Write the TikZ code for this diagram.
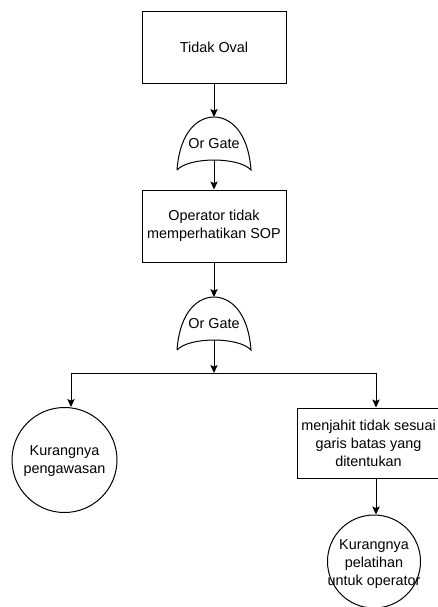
\documentclass[tikz,border=0pt]{standalone}
\usepackage{fontspec}
\setmainfont{Liberation Sans}
\usetikzlibrary{arrows.meta}
\begin{document}
\begin{tikzpicture}[x=0.75pt,y=-0.75pt,
  every node/.style={font=\fontsize{10.8}{13.5}\selectfont, align=center, inner sep=0pt},
  line/.style={line width=0.75pt, black},
  arrowline/.style={line, -{Stealth[length=6pt,width=5.5pt,inset=1.2pt]}},
  box/.style={draw, line width=0.75pt, rectangle, minimum width=108pt, minimum height=54pt},
  circ/.style={draw, line width=0.75pt, circle},
  gatelabel/.style={}
]
\useasboundingbox (0,0) rectangle (437,607);

% top events
\node[box] (b1) at (214,47) {Tidak Oval};
\node[box] (b2) at (214,226) {Operator tidak\\memperhatikan SOP};
\node[box, minimum width=107.25pt, minimum height=52.5pt] (b3) at (368.5,443)
  {menjahit tidak sesuai\\garis batas yang\\ditentukan};

% basic events
\node[circ, minimum size=78.75pt] (c1) at (64.5,460) {};
\node (c1t) at (64.5,461) {Kurangnya\\pengawasan};
\node[circ, minimum size=69.75pt] (c2) at (374,561.5) {};
\node (c2t) at (374,564) {Kurangnya\\pelatihan\\untuk operator};

% OR gates
\foreach \g/\cy in {g1/144, g2/324} {
  \node[gatelabel] (\g) at (214,\cy) {Or Gate};
  \coordinate (\g top) at ([shift={(0,-27)}]\g.center);
  \coordinate (\g bot) at ([shift={(0,16)}]\g.center);
  \draw[line] ([shift={(-37,26)}]\g.center)
    .. controls ([shift={(-34,-14)}]\g.center) and ([shift={(-15,-27)}]\g.center) .. (\g top)
    .. controls ([shift={(15,-27)}]\g.center) and ([shift={(34,-14)}]\g.center) .. ([shift={(37,26)}]\g.center)
    .. controls ([shift={(25,12.7)}]\g.center) and ([shift={(-25,12.7)}]\g.center) .. ([shift={(-37,26)}]\g.center);
}

% connectors
\coordinate (J) at (214,373);
\coordinate (JL) at (71,373);
\coordinate (JR) at (376,373);

\draw[arrowline] (b1.south) -- (g1top);
\draw[arrowline] (g1bot) -- (b2.north);
\draw[arrowline] (b2.south) -- (g2top);
\draw[arrowline] (g2bot) -- (J);
\draw[line] (JL) -- (JR);
\draw[arrowline] (JL) -- (JL |- c1.north);
\draw[arrowline] (JR) -- (JR |- b3.north);
\draw[arrowline] (JR |- b3.south) -- (JR |- c2.north);
\end{tikzpicture}
\end{document}
